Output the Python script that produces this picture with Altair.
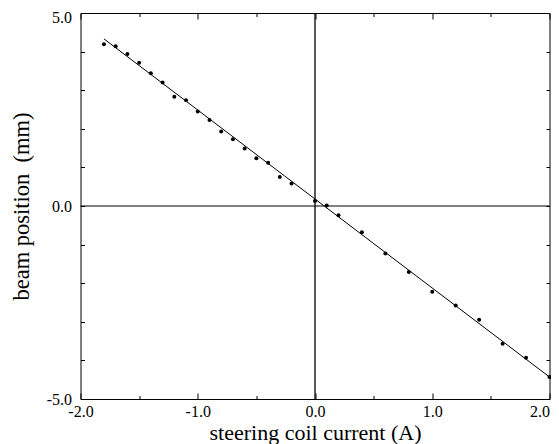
import altair as alt
import pandas as pd

# ---- data ----
current = [-1.8, -1.7, -1.6, -1.5, -1.4, -1.3, -1.2, -1.1, -1.0, -0.9,
           -0.8, -0.7, -0.6, -0.5, -0.4, -0.3, -0.2, 0.0, 0.1, 0.2,
           0.4, 0.6, 0.8, 1.0, 1.2, 1.4, 1.6, 1.8, 2.0]
position = [4.19, 4.14, 3.94, 3.71, 3.44, 3.20, 2.83, 2.74, 2.45, 2.23,
            1.93, 1.73, 1.49, 1.24, 1.12, 0.75, 0.58, 0.13, 0.01, -0.24,
            -0.68, -1.23, -1.71, -2.22, -2.58, -2.95, -3.57, -3.93, -4.43]
fit_current = [-1.8, 2.0]
fit_position = [4.33, -4.43]
zero = [0.0]

x_label_values = [-2.0, -1.0, 0.0, 1.0, 2.0]
x_minor_values = [-1.5, -0.5, 0.5, 1.5]
y_label_values = [-5.0, 0.0, 5.0]
y_tick_values = [-5, -4, -3, -2, -1, 0, 1, 2, 3, 4, 5]

x_title = "steering coil current (A)"
y_title = "beam position\u00a0 (mm)"

W, H = 469, 386
FONT = "Liberation Serif, Times New Roman, Times, DejaVu Serif, serif"
LABEL_EXPR = "(datum.value < 0 ? '-' : '') + format(abs(datum.value), '.1f')"

xscale = alt.Scale(domain=[-2, 2], nice=False, zero=False)
yscale = alt.Scale(domain=[-5, 5], nice=False, zero=False)

pts = pd.DataFrame({"x": current, "y": position})
fit = pd.DataFrame({"x": fit_current, "y": fit_position})
zdf = pd.DataFrame({"v": zero})


def tick_axis(orient, offset, values, size):
    return alt.Axis(orient=orient, offset=offset, values=values, tickSize=size,
                    ticks=True, labels=False, domain=False, grid=False,
                    title=None, tickColor="black", tickWidth=1)


x_main = alt.Axis(orient="bottom", values=x_label_values, labelExpr=LABEL_EXPR,
                  ticks=False, tickSize=0, domain=False, grid=False,
                  labelFont=FONT, labelFontSize=16, labelColor="black",
                  labelPadding=4, labelFlush=False, labelOverlap=False,
                  labelAlign={"condition": {"test": "datum.value >= 2", "value": "right"},
                              "value": "center"},
                  title=x_title, titleFont=FONT, titleFontSize=22,
                  titleFontWeight="normal", titleColor="black",
                  titleX=W / 2, titleY=40.2, titleBaseline="alphabetic",
                  titleAlign="center")
y_main = alt.Axis(orient="left", values=y_label_values, labelExpr=LABEL_EXPR,
                  ticks=False, tickSize=0, domain=False, grid=False,
                  labelFont=FONT, labelFontSize=16, labelColor="black",
                  labelPadding=9, labelFlush=False, labelOverlap=False,
                  labelOffset={"condition": {"test": "datum.value >= 5", "value": 4.5},
                               "value": 0},
                  title=y_title, titleFont=FONT, titleFontSize=22.5,
                  titleFontWeight="normal", titleColor="black",
                  titleAngle=270, titleX=-52.5, titleY=H / 2,
                  titleBaseline="alphabetic", titleAlign="center")

points = alt.Chart(pts).mark_circle(size=16, color="black", opacity=1).encode(
    x=alt.X("x:Q", scale=xscale, axis=x_main),
    y=alt.Y("y:Q", scale=yscale, axis=y_main),
)

fit_line = alt.Chart(fit).mark_line(color="black", strokeWidth=1).encode(
    x=alt.X("x:Q", scale=xscale, axis=tick_axis("top", -H, x_label_values, 6)),
    y=alt.Y("y:Q", scale=yscale, axis=tick_axis("right", -W, y_tick_values, 4)),
)

vzero = alt.Chart(zdf).mark_rule(color="black", strokeWidth=1.3).encode(
    x=alt.X("v:Q", scale=xscale, axis=tick_axis("top", -H, x_minor_values, 3.5)),
)

hzero = alt.Chart(zdf).mark_rule(color="black", strokeWidth=1).encode(
    y=alt.Y("v:Q", scale=yscale, axis=tick_axis("left", -W, y_tick_values, 3.5)),
)

top_major = alt.Chart(pts).mark_point(opacity=0).encode(
    x=alt.X("x:Q", scale=xscale, axis=tick_axis("bottom", -H, x_label_values, 6)),
    y=alt.Y("y:Q", scale=yscale, axis=None),
)

top_minor = alt.Chart(pts).mark_point(opacity=0).encode(
    x=alt.X("x:Q", scale=xscale, axis=tick_axis("bottom", -H, x_minor_values, 3.5)),
    y=alt.Y("y:Q", scale=yscale, axis=None),
)

chart = alt.layer(
    hzero, vzero, fit_line, points, top_major, top_minor
).resolve_axis(
    x="independent", y="independent"
).properties(
    width=W, height=H,
    autosize=alt.AutoSizeParams(type="none"),
    padding={"left": 72.5, "top": 5, "right": 1.5, "bottom": 45},
    background="white",
).configure_view(
    stroke="black", strokeWidth=1
)

chart.save("out.html", embed_options={"renderer": "svg", "actions": False})
